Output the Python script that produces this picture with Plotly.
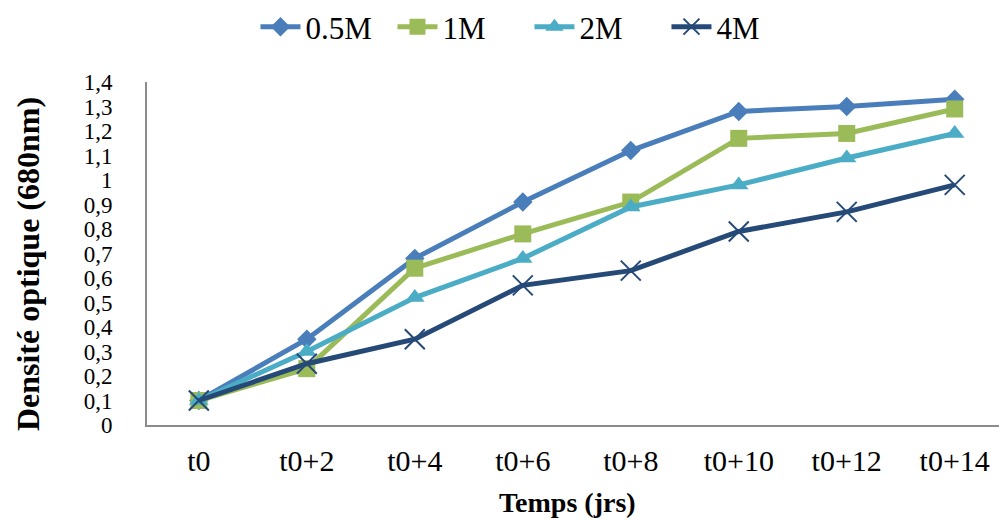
import plotly.graph_objects as go

categories = ["t0", "t0+2", "t0+4", "t0+6", "t0+8", "t0+10", "t0+12", "t0+14"]
s_05M = [0.10, 0.35, 0.68, 0.91, 1.12, 1.28, 1.30, 1.33]
s_1M = [0.10, 0.23, 0.64, 0.78, 0.91, 1.17, 1.19, 1.29]
s_2M = [0.10, 0.30, 0.52, 0.68, 0.89, 0.98, 1.09, 1.19]
s_4M = [0.10, 0.25, 0.35, 0.57, 0.63, 0.79, 0.87, 0.98]
y_ticks = [0, 0.1, 0.2, 0.3, 0.4, 0.5, 0.6, 0.7, 0.8, 0.9, 1.0, 1.1, 1.2, 1.3, 1.4]
y_ticklabels = ["0", "0,1", "0,2", "0,3", "0,4", "0,5", "0,6", "0,7", "0,8", "0,9", "1", "1,1", "1,2", "1,3", "1,4"]

FONT = "Liberation Serif"
x_idx = list(range(len(categories)))

series = [
    ("0.5M", s_05M, "#4A7EBB", dict(symbol="diamond", size=15)),
    ("1M", s_1M, "#9BBB59", dict(symbol="square", size=17)),
    ("2M", s_2M, "#4BACC6", dict(symbol="triangle-up", size=17)),
    ("4M", s_4M, "#264A78", dict(symbol="x-thin", size=20, line=dict(width=2, color="#264A78"))),
]

fig = go.Figure()
for name, ys, color, mk in series:
    m = dict(color=color, **mk)
    if "line" not in m:
        m["line"] = dict(width=0)
    fig.add_trace(go.Scatter(x=x_idx, y=ys, name=name, mode="lines+markers",
                             line=dict(color=color, width=5), marker=m))

fig.update_layout(
    width=999, height=521,
    margin=dict(l=147, r=0, t=82, b=96),
    paper_bgcolor="white", plot_bgcolor="white",
    font=dict(family=FONT, color="black"),
    showlegend=True,
    legend=dict(orientation="h", x=0.53, xanchor="center", xref="container",
                y=1.0, yanchor="top", yref="container",
                font=dict(size=31, family=FONT), itemwidth=40,
                entrywidth=82, entrywidthmode="pixels",
                traceorder="normal", tracegroupgap=0),
    xaxis=dict(tickmode="array", tickvals=x_idx, ticktext=categories, range=[-0.48, 7.41],
               showline=True, linecolor="#8c8c8c", linewidth=2, showgrid=False, zeroline=False,
               ticks="", tickfont=dict(size=30, family=FONT), ticklabelstandoff=8),
    yaxis=dict(range=[0, 1.4], tickmode="array", tickvals=y_ticks, ticktext=y_ticklabels,
               showline=True, linecolor="#8c8c8c", linewidth=2, showgrid=False, zeroline=False,
               ticks="", tickfont=dict(size=23, family=FONT), ticklabelstandoff=28),
    annotations=[
        dict(text="<b>Temps (jrs)</b>", xref="paper", yref="paper", x=0.493, y=-0.227,
             xanchor="center", yanchor="middle", showarrow=False, font=dict(size=28, family=FONT)),
        dict(text="<b>Densité optique (680nm)</b>", xref="paper", yref="paper", x=-0.1397, y=0.469,
             xanchor="center", yanchor="middle", textangle=-90, showarrow=False,
             font=dict(size=32, family=FONT)),
    ],
)

fig.write_html("out.html")
